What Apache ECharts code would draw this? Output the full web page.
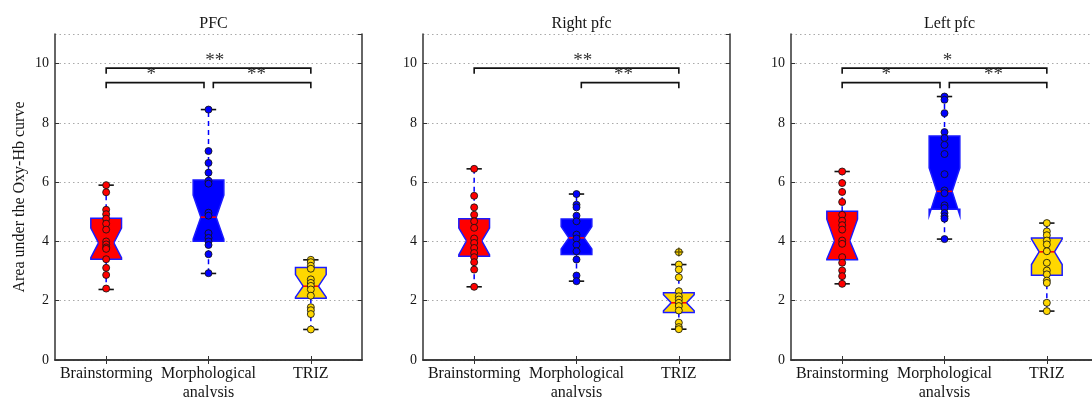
<!DOCTYPE html>
<html>
<head>
<meta charset="utf-8">
<script src="https://cdn.jsdelivr.net/npm/echarts@6/dist/echarts.min.js"></script>
<style>
html,body{margin:0;padding:0;background:#fff;}
#chart{width:1092px;height:397px;}
</style>
</head>
<body>
<div id="chart"></div>
<script>
// ---------- DATA ----------
const categories = ['Brainstorming', 'Morphological\nanalysis', 'TRIZ'];
const panelTitles = ['PFC', 'Right pfc', 'Left pfc'];
const yAxisName = 'Area under the Oxy-Hb curve';
const yMin = 0, yMax = 11, yStep = 2;

// box statistics, one row per panel (PFC, Right pfc, Left pfc), one value per category
const q1Values        = [[3.40, 4.01, 2.08], [3.50, 3.56, 1.60], [3.38, 5.09, 2.86]];
const medianValues    = [[3.95, 4.82, 2.49], [4.02, 4.12, 1.93], [4.02, 5.69, 3.65]];
const q3Values        = [[4.78, 6.07, 3.12], [4.77, 4.76, 2.27], [5.02, 7.56, 4.12]];
const notchLowValues  = [[3.45, 4.08, 2.12], [3.55, 3.75, 1.66], [3.40, 4.88, 3.22]];
const notchHighValues = [[4.45, 5.56, 2.88], [4.45, 4.50, 2.20], [4.75, 6.48, 4.08]];
const whiskerLowValues  = [[2.38, 2.92, 1.03], [2.47, 2.66, 1.04], [2.57, 4.08, 1.65]];
const whiskerHighValues = [[5.90, 8.45, 3.38], [6.45, 5.60, 3.22], [6.36, 8.89, 4.62]];

// individual observations
const pfcBrainstorming = [5.90, 5.66, 5.07, 4.92, 4.77, 4.60, 4.40, 4.00, 3.90, 3.80, 3.75, 3.40, 3.11, 2.87, 2.41];
const pfcMorphological = [8.45, 7.05, 6.65, 6.32, 6.05, 5.95, 4.97, 4.87, 4.28, 4.12, 4.00, 3.88, 3.57, 2.93];
const pfcTriz          = [3.38, 3.30, 3.18, 3.08, 2.72, 2.60, 2.50, 2.38, 2.17, 1.78, 1.68, 1.55, 1.03];
const rightBrainstorming = [6.45, 5.54, 5.15, 4.90, 4.68, 4.46, 4.10, 3.95, 3.78, 3.61, 3.47, 3.30, 3.05, 2.47];
const rightMorphological = [5.60, 5.24, 5.15, 4.87, 4.68, 4.23, 4.10, 3.89, 3.67, 3.39, 2.85, 2.66];
const rightTriz          = [3.64, 3.22, 3.05, 2.79, 2.32, 2.15, 2.04, 1.93, 1.82, 1.67, 1.26, 1.11, 1.04];
const leftBrainstorming = [6.36, 5.97, 5.67, 5.33, 4.90, 4.70, 4.55, 4.40, 4.03, 3.92, 3.47, 3.28, 3.02, 2.83, 2.57];
const leftMorphological = [8.89, 8.78, 8.33, 7.69, 7.49, 7.26, 6.95, 6.27, 5.72, 5.63, 5.22, 5.13, 4.96, 4.85, 4.77, 4.08];
const leftTriz          = [4.62, 4.34, 4.21, 4.03, 3.90, 3.67, 3.28, 3.02, 2.89, 2.68, 2.60, 1.93, 1.65];
const panelPoints = [
  [pfcBrainstorming, pfcMorphological, pfcTriz],
  [rightBrainstorming, rightMorphological, rightTriz],
  [leftBrainstorming, leftMorphological, leftTriz]
];
// outliers (flier '+') : [panel, category, value]
const outliers = [[1, 2, 3.64]];

// significance brackets: [from position, to position, bar level]
const bracketSpans = [
  [[1, 3, 9.85], [1, 1.956, 9.36], [2.047, 3, 9.36]],
  [[1, 3, 9.85], [2.047, 3, 9.36]],
  [[1, 3, 9.85], [1, 1.956, 9.36], [2.047, 3, 9.36]]
];
const bracketLabels = [['**', '*', '**'], ['**', '**'], ['*', '*', '**']];
// label x positions (category position units) for each bracket
const bracketLabelX = [[2.06, 1.44, 2.47], [2.06, 2.46], [2.03, 1.43, 2.48]];

// ---------- STYLE ----------
const boxColors = ['#ff0000', '#0000ff', '#ffd700'];
const FONT = '"Liberation Serif", "Times New Roman", serif';
const TXT = '#151515';
const gridLefts = [55, 423, 791];
const gridWidth = 307, gridTop = 34, gridHeight = 326;

function posToPx(api, pos, v) {
  const c0 = api.coord([0, v]);
  const band = api.size([1, 0])[0];
  return [c0[0] + (pos - 1) * band, c0[1]];
}

function renderBox(params, api) {
  const idx = api.value(0);
  const q1 = api.value(1), med = api.value(2), q3 = api.value(3);
  const ciLo = api.value(4), ciHi = api.value(5), wLo = api.value(6), wHi = api.value(7);
  const band = api.size([1, 0])[0];
  const bw = band * 0.3;
  const cx = api.coord([idx, med])[0];
  const y = v => api.coord([idx, v])[1];
  const L = cx - bw / 2, R = cx + bw / 2, cL = cx - bw / 4, cR = cx + bw / 4;
  const capH = bw / 4;
  const whiskerStyle = {stroke: '#0000ff', lineWidth: 1.5, lineDash: [5, 4]};
  const capStyle = {stroke: '#111', lineWidth: 1.6};
  return {
    type: 'group',
    children: [
      {type: 'line', shape: {x1: cx, y1: y(q3), x2: cx, y2: y(wHi)}, style: whiskerStyle},
      {type: 'line', shape: {x1: cx, y1: y(q1), x2: cx, y2: y(wLo)}, style: whiskerStyle},
      {type: 'line', shape: {x1: cx - capH, y1: y(wHi), x2: cx + capH, y2: y(wHi)}, style: capStyle},
      {type: 'line', shape: {x1: cx - capH, y1: y(wLo), x2: cx + capH, y2: y(wLo)}, style: capStyle},
      {type: 'polygon', shape: {points: [
        [L, y(q1)], [R, y(q1)], [R, y(ciLo)], [cR, y(med)], [R, y(ciHi)], [R, y(q3)],
        [L, y(q3)], [L, y(ciHi)], [cL, y(med)], [L, y(ciLo)], [L, y(q1)]
      ]}, style: {fill: boxColors[params.dataIndex], stroke: '#1a1aff', lineWidth: 1.5, lineJoin: 'miter'}},
      {type: 'line', shape: {x1: cL, y1: y(med), x2: cR, y2: y(med)}, style: {stroke: '#ff0000', lineWidth: 1.5}}
    ]
  };
}

function makeBracketRenderer(p) {
  return function (params, api) {
    const from = api.value(0), to = api.value(1), lvl = api.value(2), lx = api.value(3);
    const legDrop = 0.19;
    const a = posToPx(api, from, lvl), b = posToPx(api, to, lvl);
    const yLeg = posToPx(api, from, lvl - legDrop)[1];
    const t = posToPx(api, lx, lvl + 0.24);
    const style = {stroke: '#111', lineWidth: 1.6, fill: null};
    return {
      type: 'group',
      children: [
        {type: 'polyline', shape: {points: [[a[0], yLeg], [a[0], a[1]], [b[0], b[1]], [b[0], yLeg]]}, style: style},
        {type: 'text', x: t[0], y: t[1], style: {text: bracketLabels[p][params.dataIndex], font: '19px ' + FONT, fill: '#333', align: 'center', verticalAlign: 'middle'}}
      ]
    };
  };
}

const grids = [], xAxes = [], yAxes = [], series = [], titles = [];
const axisLineStyle = {color: '#333', width: 1.5};

for (let p = 0; p < 3; p++) {
  grids.push({left: gridLefts[p], top: gridTop, width: gridWidth, height: gridHeight,
    containLabel: false, outerBoundsMode: 'none'});
  titles.push({
    text: panelTitles[p], left: gridLefts[p] + gridWidth / 2, top: 11, textAlign: 'center',
    textStyle: {fontFamily: FONT, fontSize: 16, fontWeight: 'normal', color: TXT}
  });
  xAxes.push({
    type: 'category', gridIndex: p, position: 'bottom', data: categories, boundaryGap: true,
    axisLine: {show: true, lineStyle: axisLineStyle},
    axisTick: {show: true, inside: true, alignWithLabel: true, length: 4, lineStyle: {color: '#333', width: 1}},
    axisLabel: {fontFamily: FONT, fontSize: 16, color: TXT, margin: 4, lineHeight: 19, interval: 0},
    splitLine: {show: false}
  });
  xAxes.push({
    type: 'category', gridIndex: p, position: 'top', data: categories, boundaryGap: true,
    axisLine: {show: true, lineStyle: axisLineStyle},
    axisTick: {show: true, inside: true, alignWithLabel: true, length: 4, lineStyle: {color: '#333', width: 1}},
    axisLabel: {show: false}, splitLine: {show: false}
  });
  yAxes.push({
    type: 'value', gridIndex: p, position: 'left', min: yMin, max: yMax, interval: yStep,
    name: p === 0 ? yAxisName : '', nameLocation: 'middle', nameGap: 27, nameRotate: 90,
    nameTextStyle: {fontFamily: FONT, fontSize: 16, color: TXT},
    axisLine: {show: true, lineStyle: axisLineStyle},
    axisTick: {show: true, inside: true, length: 4, lineStyle: {color: '#333', width: 1}},
    axisLabel: {fontFamily: FONT, fontSize: 14, color: TXT, margin: 6, showMaxLabel: false},
    splitLine: {show: true, lineStyle: {color: '#aaa', type: [1.5, 3], width: 1}}
  });
  yAxes.push({
    type: 'value', gridIndex: p, position: 'right', min: yMin, max: yMax, interval: yStep,
    axisLine: {show: true, lineStyle: axisLineStyle},
    axisTick: {show: true, inside: true, length: 4, lineStyle: {color: '#333', width: 1}},
    axisLabel: {show: false}, splitLine: {show: false}
  });

  const boxData = [0, 1, 2].map(c => [c, q1Values[p][c], medianValues[p][c], q3Values[p][c],
    notchLowValues[p][c], notchHighValues[p][c], whiskerLowValues[p][c], whiskerHighValues[p][c]]);
  series.push({
    type: 'custom', xAxisIndex: 2 * p, yAxisIndex: 2 * p, renderItem: renderBox,
    data: boxData, z: 2, silent: true, clip: false
  });

  const pts = [];
  panelPoints[p].forEach((arr, c) => arr.forEach(v => pts.push([c, v])));
  series.push({
    type: 'scatter', xAxisIndex: 2 * p, yAxisIndex: 2 * p, data: pts, symbol: 'circle', symbolSize: 7,
    itemStyle: {color: prm => boxColors[prm.value[0]], borderColor: 'rgba(20,20,20,0.85)', borderWidth: 1, opacity: 1},
    z: 4, silent: true
  });

  const outs = outliers.filter(o => o[0] === p).map(o => [o[1], o[2]]);
  if (outs.length) {
    series.push({
      type: 'scatter', xAxisIndex: 2 * p, yAxisIndex: 2 * p, data: outs,
      symbol: 'path://M0,5L10,5M5,0L5,10', symbolSize: 9,
      itemStyle: {color: 'none', borderColor: '#4a3f00', borderWidth: 1.5}, z: 5, silent: true
    });
  }

  series.push({
    type: 'custom', xAxisIndex: 2 * p, yAxisIndex: 2 * p, renderItem: makeBracketRenderer(p), clip: false,
    data: bracketSpans[p].map((b, i) => [b[0], b[1], b[2], bracketLabelX[p][i]]),
    z: 6, silent: true
  });
}

const chart = echarts.init(document.getElementById('chart'), null, {renderer: 'canvas'});
chart.setOption({
  animation: false,
  backgroundColor: '#fff',
  title: titles,
  grid: grids,
  xAxis: xAxes,
  yAxis: yAxes,
  series: series
});
</script>
</body>
</html>
